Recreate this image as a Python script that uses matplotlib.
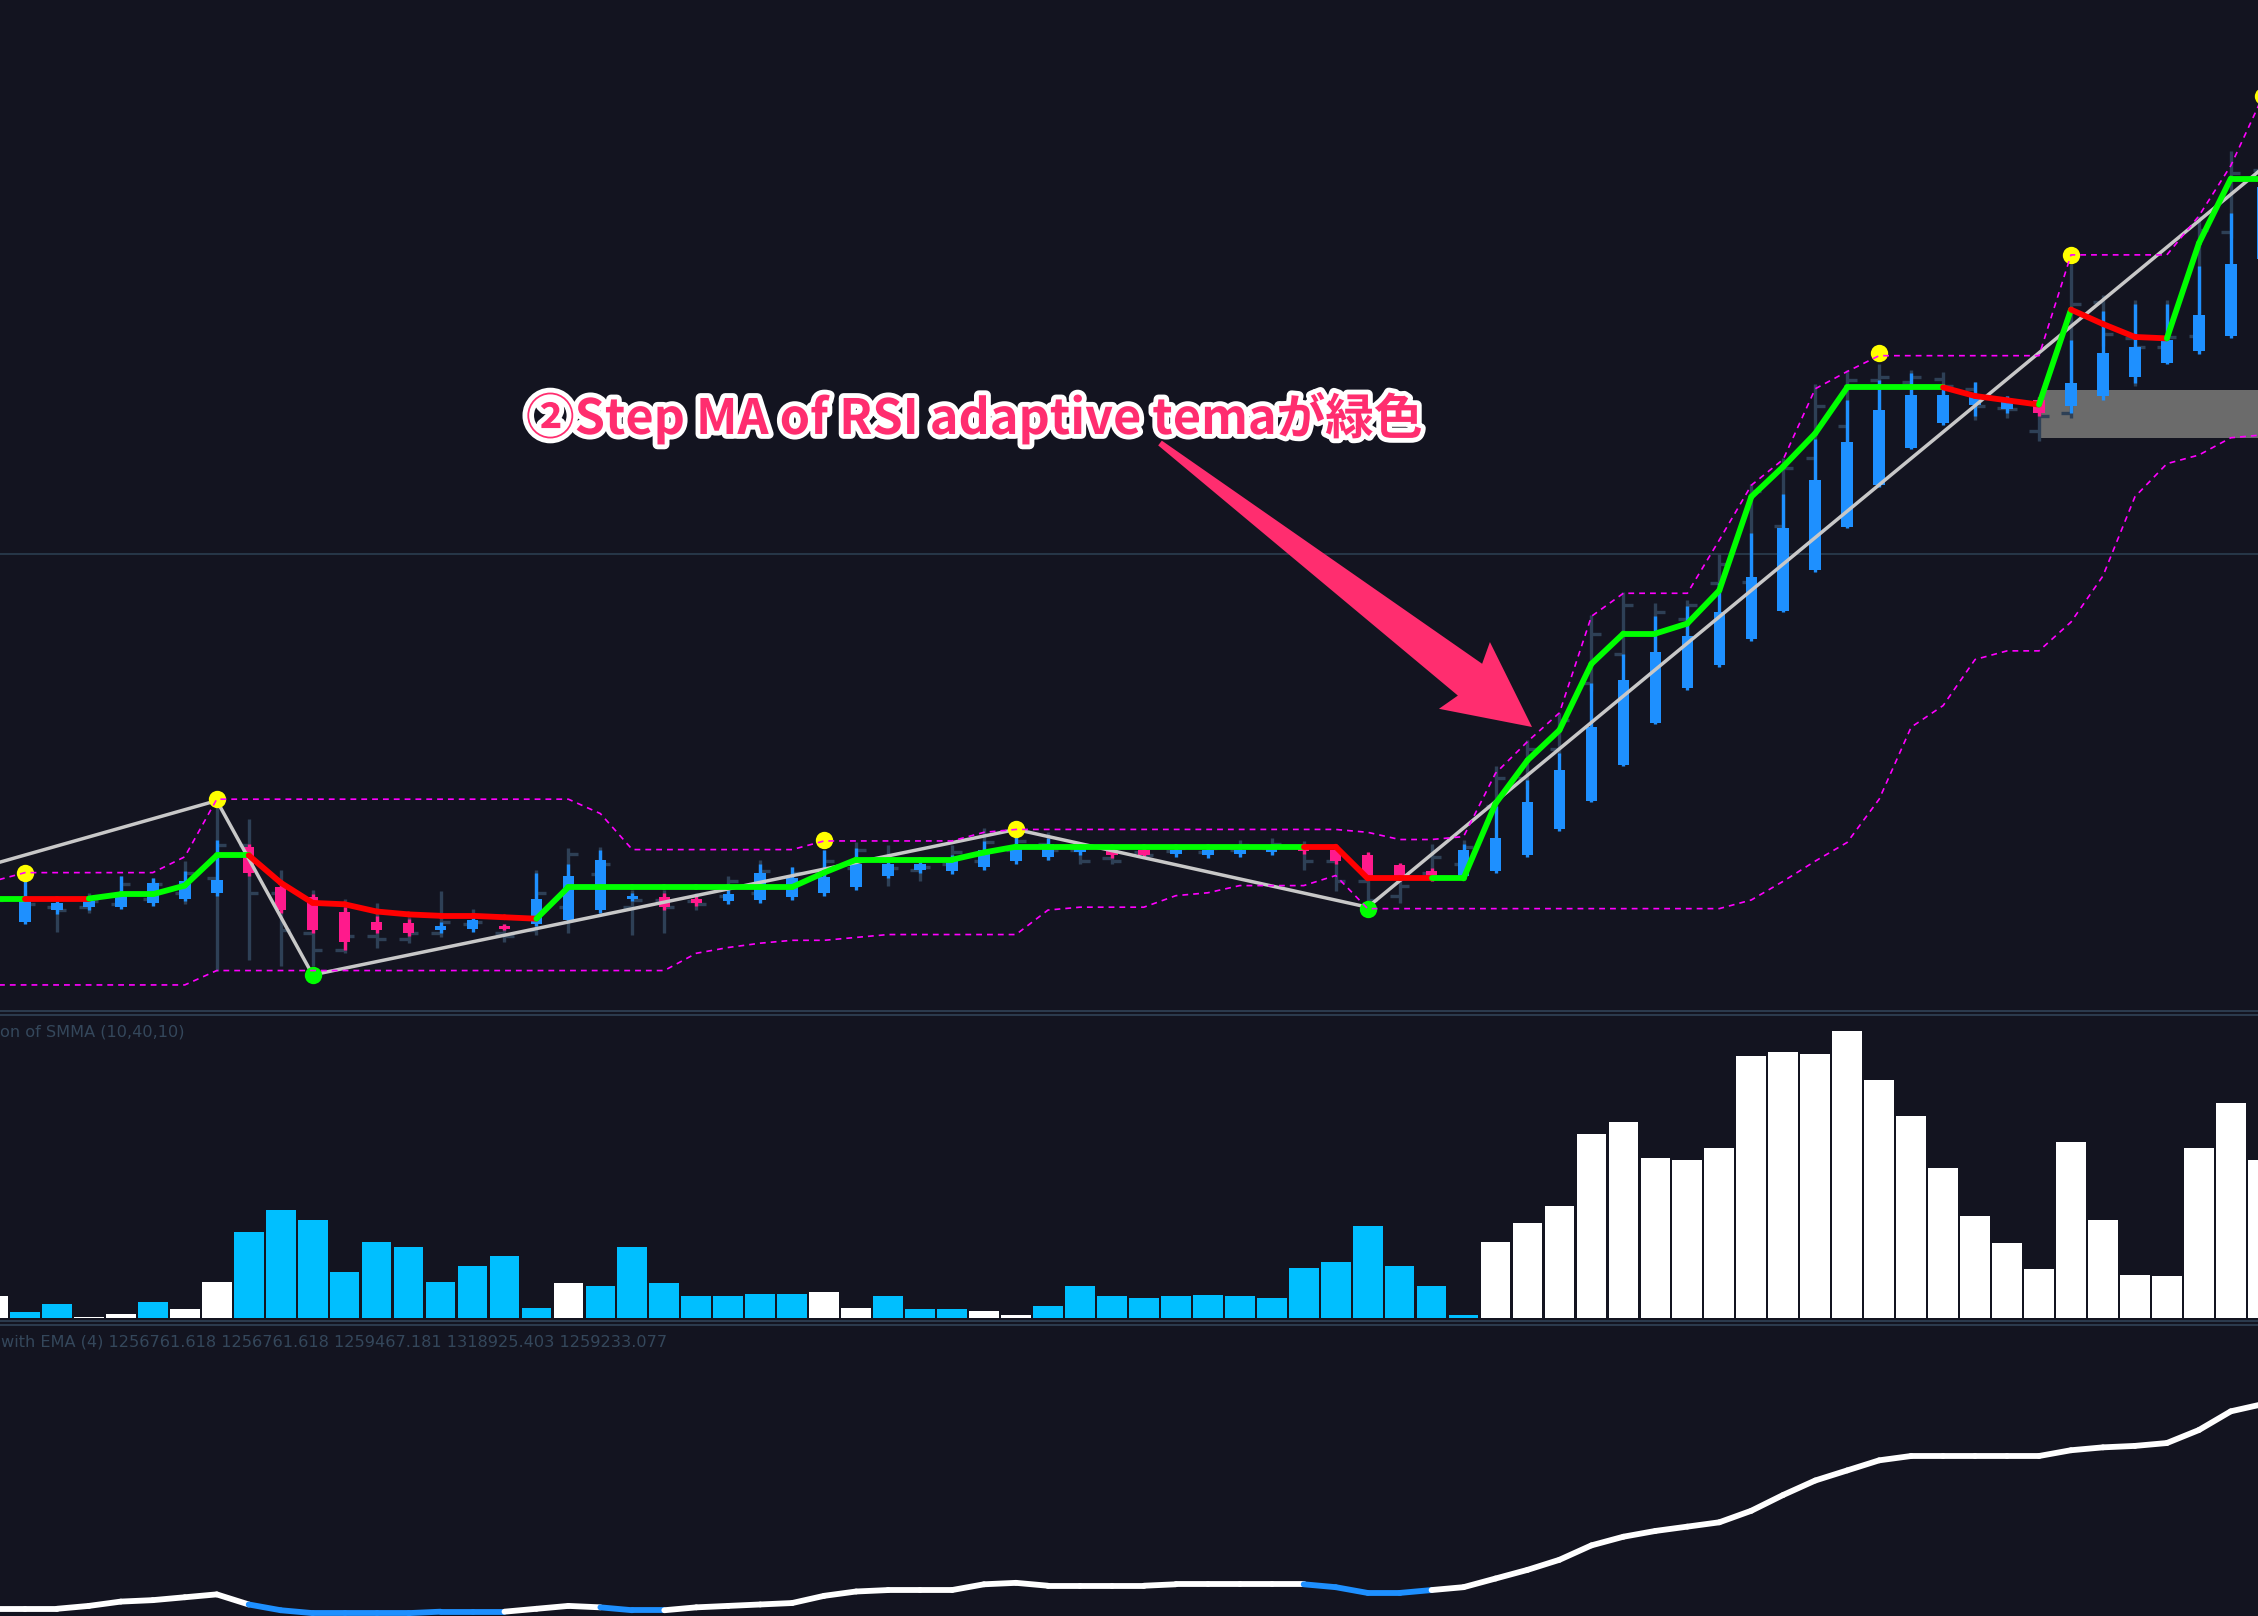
import numpy as np
import matplotlib.pyplot as plt
from matplotlib.collections import LineCollection
from matplotlib.patches import Polygon, Rectangle
import matplotlib.patheffects as pe

# bar index (one per candle, -1 .. 70)
idx = np.arange(-1, 71)

# Step MA of RSI adaptive tema (value per bar, 1 = green segment, 0 = red)
step_ma = [76, 76, 76, 76, 79, 79, 85, 106, 106, 87, 73, 72,
           67, 65, 64, 64, 63, 62, 84, 84, 84, 84, 84, 84,
           84, 84, 94, 103, 103, 103, 103, 108, 112, 112, 112, 112,
           112, 112, 112, 112, 112, 112, 112, 90, 90, 90, 90, 142,
           172, 193, 239, 260, 260, 267, 290, 355, 376, 399, 431, 431,
           431, 431, 425, 422, 419, 485, 475, 466, 465, 531, 576, 576]
step_up = [1, 1, 0, 0, 1, 1, 1, 1, 1, 0, 0, 0,
           0, 0, 0, 0, 0, 0, 1, 1, 1, 1, 1, 1,
           1, 1, 1, 1, 1, 1, 1, 1, 1, 1, 1, 1,
           1, 1, 1, 1, 1, 1, 0, 0, 0, 0, 1, 1,
           1, 1, 1, 1, 1, 1, 1, 1, 1, 1, 1, 1,
           1, 1, 0, 0, 0, 1, 0, 0, 0, 1, 1, 1]

# channel bands
upper_band = [88, 94, 94, 94, 94, 94, 105, 145, 145, 145, 145, 145,
              145, 145, 145, 145, 145, 145, 145, 135, 110, 110, 110, 110,
              110, 110, 116, 116, 116, 116, 116, 122, 124, 124, 124, 124,
              124, 124, 124, 124, 124, 124, 124, 122, 117, 117, 119, 163,
              185, 205, 272, 288, 288, 288, 325, 363, 381, 430, 442, 453,
              453, 453, 453, 453, 453, 523, 523, 523, 523, 550, 585, 633]
lower_band = [16, 16, 16, 16, 16, 16, 16, 26, 26, 26, 26, 26,
              26, 26, 26, 26, 26, 26, 26, 26, 26, 26, 38, 42,
              45, 47, 47, 49, 51, 51, 51, 51, 51, 68, 70, 70,
              70, 78, 80, 85, 85, 85, 92, 69, 69, 69, 69, 69,
              69, 69, 69, 69, 69, 69, 69, 75, 88, 102, 115, 145,
              195, 210, 242, 248, 248, 268, 300, 355, 378, 384, 396, 398]

# coloured candles
ha_open = [74, 60, 68, 70, 70, 73, 76, 80, 112, 84, 77, 67,
           60, 59, 54, 55, 57, 58, 61, 68, 76, 77, 76, 74,
           75, 77, 80, 84, 92, 96, 95, 98, 102, 105, 108, 109,
           110, 107, 106, 107, 108, 112, 110, 106, 99, 95, 92, 95,
           106, 124, 144, 169, 198, 222, 238, 256, 276, 304, 334, 363,
           389, 406, 419, 416, 422, 418, 425, 438, 448, 456, 467, 520]
ha_high = [80, 90, 75, 77, 92, 90, 95, 117, 114, 88, 79, 70,
           64, 62, 60, 63, 58, 94, 100, 110, 80, 80, 78, 82,
           100, 98, 110, 111, 104, 102, 106, 116, 120, 118, 113, 110,
           111, 112, 112, 113, 114, 114, 112, 108, 101, 97, 114, 140,
           158, 177, 226, 246, 272, 279, 295, 330, 357, 395, 422, 436,
           441, 433, 435, 425, 424, 464, 484, 489, 489, 515, 552, 600]
ha_low = [72, 58, 65, 68, 69, 71, 74, 78, 92, 66, 52, 40,
          52, 50, 52, 53, 54, 57, 60, 66, 74, 68, 71, 72,
          73, 75, 78, 82, 90, 94, 93, 96, 100, 103, 106, 104,
          104, 105, 104, 105, 106, 107, 100, 90, 88, 88, 90, 94,
          105, 123, 143, 168, 197, 221, 237, 255, 275, 303, 333, 362,
          388, 405, 411, 413, 411, 413, 422, 434, 447, 454, 465, 518]
ha_close = [78, 74, 73, 74, 80, 87, 88, 89, 94, 68, 54, 46,
            54, 52, 57, 61, 55, 76, 92, 103, 78, 70, 73, 79,
            94, 90, 91, 100, 100, 100, 102, 110, 111, 114, 112, 106,
            106, 110, 110, 110, 112, 109, 102, 92, 90, 90, 110, 118,
            143, 165, 195, 228, 247, 258, 275, 299, 333, 367, 393, 415,
            426, 426, 426, 422, 413, 434, 455, 459, 464, 481, 517, 570]

# plain OHLC bars
bar_high = [85, 82, 73, 80, 92, 90, 102, 142, 131, 96, 82, 76,
            73, 63, 81, 69, 58, 96, 111, 112, 82, 82, 80, 92,
            103, 98, 110, 115, 113, 100, 113, 125, 122, 122, 113, 111,
            111, 113, 113, 117, 118, 116, 112, 100, 96, 114, 117, 168,
            186, 205, 273, 289, 281, 283, 315, 364, 382, 433, 443, 447,
            443, 442, 435, 425, 424, 517, 495, 492, 492, 550, 595, 640]
bar_low = [68, 68, 53, 66, 70, 72, 72, 26, 33, 29, 29, 38,
           42, 45, 49, 55, 46, 51, 52, 68, 51, 52, 68, 74,
           75, 76, 80, 84, 85, 88, 98, 98, 102, 103, 100, 100,
           104, 107, 106, 107, 107, 96, 81, 70, 73, 89, 89, 135,
           152, 175, 220, 244, 244, 255, 290, 294, 330, 365, 390, 410,
           420, 420, 408, 410, 394, 410, 460, 432, 450, 460, 535, 580]
bar_open = [80, 76, 70, 70, 72, 76, 80, 90, 113, 80, 52, 40,
            50, 48, 52, 58, 52, 54, 70, 93, 70, 75, 74, 78,
            80, 85, 94, 97, 102, 96, 100, 102, 110, 114, 110, 104,
            108, 109, 108, 110, 111, 112, 102, 88, 78, 94, 100, 140,
            160, 180, 226, 246, 260, 270, 295, 296, 335, 382, 404, 436,
            435, 437, 430, 417, 401, 413, 490, 465, 459, 467, 539, 582]
bar_close = [75, 72, 68, 74, 86, 86, 94, 113, 80, 54, 40, 50,
             48, 52, 60, 60, 50, 80, 107, 100, 75, 70, 72, 88,
             95, 94, 102, 110, 97, 98, 108, 115, 116, 110, 102, 102,
             106, 111, 111, 113, 114, 102, 88, 75, 85, 105, 112, 160,
             180, 200, 260, 280, 275, 280, 308, 359, 375, 418, 436, 438,
             438, 432, 418, 416, 411, 489, 468, 459, 466, 540, 580, 630]

# zigzag and its swing markers
zz_idx = [-4, 6, 9, 31, 42, 72]
zz_val = [81, 144, 23, 124, 70, 620]
top_idx = [0, 6, 25, 31, 58, 64, 70]
top_val = [94, 145, 117, 124, 455, 523, 633]
bot_idx = [9, 42]
bot_val = [23, 69]

level_line = 315
zone_start, zone_lo, zone_hi = 63.05, 396, 429

# SMMA oscillator histogram (1 = white, 0 = blue)
smma_hist = [15, 4, 10, 1, 3, 11, 6, 25, 60, 75, 68, 32,
             53, 49, 25, 36, 43, 7, 24, 22, 49, 24, 15, 15,
             17, 17, 18, 7, 15, 6, 6, 5, 2, 8, 22, 15,
             14, 15, 16, 15, 14, 35, 39, 64, 36, 22, 2, 53,
             66, 78, 128, 136, 111, 110, 118, 182, 185, 183, 199, 165,
             140, 104, 71, 52, 34, 122, 68, 30, 29, 118, 149, 110]
smma_white = [1, 0, 0, 1, 1, 0, 1, 1, 0, 0, 0, 0,
              0, 0, 0, 0, 0, 0, 1, 0, 0, 0, 0, 0,
              0, 0, 1, 1, 0, 0, 0, 1, 1, 0, 0, 0,
              0, 0, 0, 0, 0, 0, 0, 0, 0, 0, 0, 1,
              1, 1, 1, 1, 1, 1, 1, 1, 1, 1, 1, 1,
              1, 1, 1, 1, 1, 1, 1, 1, 1, 1, 1, 1]

# volume line with EMA (bottom panel)
vol_line = [5, 5, 5, 7, 10, 11, 13, 15, 8, 4, 2, 2,
            2, 2, 3, 3, 3, 5, 7, 6, 4, 4, 6, 7,
            8, 9, 14, 17, 18, 18, 18, 22, 23, 21, 21, 21,
            21, 22, 22, 22, 22, 22, 20, 16, 16, 18, 20, 26,
            32, 39, 49, 55, 59, 62, 65, 73, 84, 94, 101, 108,
            111, 111, 111, 111, 111, 115, 117, 118, 120, 129, 142, 147]
vol_blue = [8, 9, 10, 11, 12, 13, 14, 15, 19, 20, 41, 42, 43, 44]

label_smma = "on of SMMA (10,40,10)"
label_vol = "with EMA (4) 1256761.618 1256761.618 1259467.181 1318925.403 1259233.077"
note = "②Step MA of RSI adaptive temaが緑色"

BG = '#131420'
BLUE = '#1e90ff'
PINK = '#ff1a8c'
DARK = '#2e4056'
W, H = 2258, 1616

fig = plt.figure(figsize=(W / 100, H / 100), dpi=100, facecolor=BG)

def px_axes(top, bottom):
    return fig.add_axes([0, 1 - bottom / H, 1, (bottom - top) / H], facecolor=BG)

xl = (-0.78, 69.85)

# ---------------- main price panel
ax = px_axes(0, 1010)
ax.set_xlim(*xl)
ax.set_ylim(-1.4, 700)
ax.axis('off')
ax.patch.set_visible(True)

ax.add_patch(Rectangle((zone_start, zone_lo), 10, zone_hi - zone_lo,
                       color='#6b6b6b', lw=0, zorder=1))
ax.axhline(level_line, color='#2b3d50', lw=1.2, zorder=1)

ax.vlines(idx, bar_low, bar_high, colors=DARK, lw=2.4, zorder=2)
ax.hlines(bar_open, idx - 0.3, idx, colors=DARK, lw=2.4, zorder=2)
ax.hlines(bar_close, idx, idx + 0.3, colors=DARK, lw=2.4, zorder=2)

ho, hc = np.array(ha_open), np.array(ha_close)
ccol = np.where(hc >= ho, BLUE, PINK)
ax.vlines(idx, ha_low, ha_high, colors=ccol, lw=2.4, zorder=3)
ax.bar(idx, np.maximum(np.abs(hc - ho), 1.5), bottom=np.minimum(ho, hc),
       width=0.36, color=ccol, lw=0, zorder=3)

ax.plot(zz_idx, zz_val, color='#c8c8c8', lw=2.5, zorder=4)

pts = np.column_stack([idx, step_ma])
segs = np.stack([pts[:-1], pts[1:]], axis=1)
cols = ['#00ff00' if u else '#ff0000' for u in step_up[1:]]
ax.add_collection(LineCollection(segs, colors=cols, linewidths=4.2,
                                 capstyle='round', zorder=5))

ax.plot(top_idx, top_val, 'o', color='#ffff00', ms=12.5, mew=0, zorder=6)
ax.plot(bot_idx, bot_val, 'o', color='#00ff00', ms=12.5, mew=0, zorder=6)

ax.plot(idx, upper_band, color='#ff00ff', lw=1.2, ls=(0, (3.5, 3)), zorder=7)
ax.plot(idx, lower_band, color='#ff00ff', lw=1.2, ls=(0, (3.5, 3)), zorder=7)

# ---------------- SMMA histogram
axh = px_axes(1017, 1318)
axh.set_xlim(*xl)
axh.set_ylim(0, 209)
axh.axis('off')
axh.patch.set_visible(True)
hcol = ['#ffffff' if w else '#00bfff' for w in smma_white]
axh.bar(idx, smma_hist, width=0.93, color=hcol, lw=0)

# ---------------- bottom line panel
axb = px_axes(1327, 1616)
axb.set_xlim(*xl)
axb.set_ylim(0, 200.5)
axb.axis('off')
axb.patch.set_visible(True)
pts = np.column_stack([idx, vol_line])
segs = np.stack([pts[:-1], pts[1:]], axis=1)
cols = [BLUE if i in vol_blue else '#ffffff' for i in idx[1:]]
axb.add_collection(LineCollection(segs, colors=cols, linewidths=4.2,
                                  capstyle='round', zorder=3))

# ---------------- overlay: separators, labels, annotation
ov = fig.add_axes([0, 0, 1, 1], zorder=10)
ov.set_xlim(0, W)
ov.set_ylim(H, 0)
ov.axis('off')
ov.patch.set_alpha(0)
for y in (1011, 1015, 1321, 1325):
    ov.axhline(y, color='#2e3f52', lw=1.3)

ov.text(0, 1032, label_smma, color='#34475b', fontsize=11.6, family='DejaVu Sans',
        va='center', ha='left')
ov.text(1, 1342, label_vol, color='#34475b', fontsize=11.6, family='DejaVu Sans',
        va='center', ha='left')

sx, sy, tx, ty = 1160, 443, 1532, 727
d = np.array([tx - sx, ty - sy], float)
L = np.hypot(*d)
u = d / L
n = np.array([-u[1], u[0]])
S = np.array([sx, sy], float)
arrow = [S + n * 3, S + u * (L - 78) + n * 20, S + u * (L - 85) + n * 42, S + u * L,
         S + u * (L - 85) - n * 42, S + u * (L - 78) - n * 20, S - n * 3]
ov.add_patch(Polygon(arrow, closed=True, color='#ff2d6f', lw=0))

ov.text(526, 418, note, color='#ff2d6f', fontsize=35, fontweight='bold',
        family=['Noto Sans CJK JP', 'DejaVu Sans'], va='center', ha='left',
        path_effects=[pe.withStroke(linewidth=7, foreground='white')])

fig.savefig('out.png', dpi=100, facecolor=BG)
